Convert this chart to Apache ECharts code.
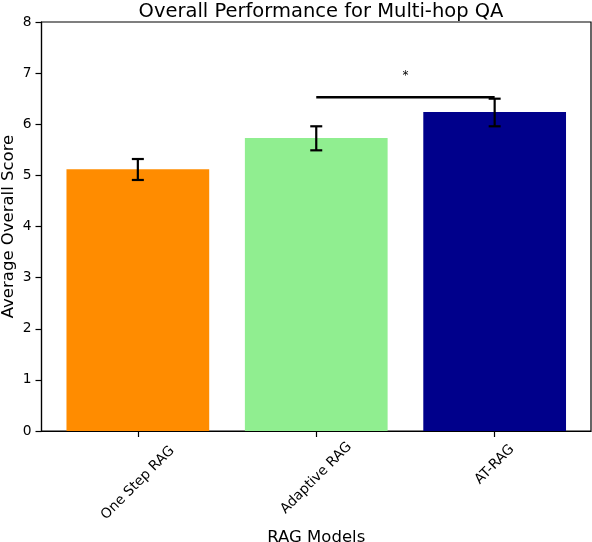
<!DOCTYPE html>
<html>
<head>
<meta charset="utf-8">
<script src="https://cdn.jsdelivr.net/npm/echarts@6/dist/echarts.min.js"></script>
<style>
  html, body { margin: 0; padding: 0; background: #fff; }
  #chart { width: 592px; height: 542px; }
</style>
</head>
<body>
<div id="chart"></div>
<script>
// data
const models = ['One Step RAG', 'Adaptive RAG', 'AT-RAG']
const scores = [5.12, 5.73, 6.24]
const errLow = [4.91, 5.49, 5.96]
const errHigh = [5.32, 5.96, 6.50]
const barColors = ['#FF8C00', '#90EE90', '#00008B']
const yTicks = [0, 1, 2, 3, 4, 5, 6, 7, 8]
// significance bracket: [from, to, height, label height]
const sigPairs = [[1, 2, 6.53, 6.95]]
const sigLabels = ['*']

const FONT = '"DejaVu Sans", sans-serif'
const TICK_SIZE = 13.8

const barData = scores.map((v, i) => [i, v])
const errData = scores.map((v, i) => [i, errLow[i], errHigh[i]])

// per-label shift so rotated labels hang like centred matplotlib ticks
const labelRich = {
  a: { fontSize: TICK_SIZE, fontFamily: FONT, color: '#000', padding: [0, 0, 0, 0] },
  b: { fontSize: TICK_SIZE, fontFamily: FONT, color: '#000', padding: [0, 0, 7, 7] },
  c: { fontSize: TICK_SIZE, fontFamily: FONT, color: '#000', padding: [0, 0, 26, 26] },
}
const richKeys = ['a', 'b', 'c']

const option = {
  animation: false,
  backgroundColor: '#fff',
  textStyle: { fontFamily: FONT },
  title: {
    text: 'Overall Performance for Multi-hop QA',
    left: 316,
    top: -3,
    textAlign: 'center',
    textStyle: { fontSize: 19.5, fontWeight: 'normal', color: '#000', fontFamily: FONT },
  },
  grid: {
    left: 41.5,
    right: 1,
    top: 22,
    bottom: 111,
    show: true,
    borderColor: '#000',
    borderWidth: 1.2,
    containLabel: false,
    outerBoundsMode: 'none',
  },
  xAxis: {
    type: 'value',
    min: -0.54,
    max: 2.54,
    name: 'RAG Models',
    nameLocation: 'middle',
    nameGap: 98,
    nameMoveOverlap: false,
    nameTextStyle: { fontSize: 16.5, color: '#000', fontFamily: FONT },
    axisLine: { show: true, onZero: false, lineStyle: { color: '#000', width: 1.2 } },
    axisTick: { show: true, length: 6, customValues: [0, 1, 2], lineStyle: { color: '#000', width: 1.2 } },
    axisLabel: {
      customValues: [0, 1, 2],
      rotate: 45,
      align: 'center',
      verticalAlign: 'middle',
      margin: 52,
      formatter: (v) => {
        const i = Math.round(v)
        return '{' + richKeys[i] + '|' + models[i] + '}'
      },
      rich: labelRich,
    },
    splitLine: { show: false },
  },
  yAxis: {
    type: 'value',
    min: yTicks[0],
    max: yTicks[yTicks.length - 1],
    interval: 1,
    name: 'Average Overall Score',
    nameLocation: 'middle',
    nameGap: 24,
    nameMoveOverlap: false,
    nameTextStyle: { fontSize: 16.5, color: '#000', fontFamily: FONT },
    axisLine: { show: true, onZero: false, lineStyle: { color: '#000', width: 1.2 } },
    axisTick: { show: true, length: 6, lineStyle: { color: '#000', width: 1.2 } },
    axisLabel: { fontSize: TICK_SIZE, color: '#000', margin: 10, fontFamily: FONT },
    splitLine: { show: false },
  },
  series: [
    {
      type: 'custom',
      name: 'bars',
      data: barData,
      renderItem: (params, api) => {
        const x = api.value(0)
        const y = api.value(1)
        const p0 = api.coord([x - 0.4, y])
        const p1 = api.coord([x + 0.4, 0])
        return {
          type: 'rect',
          shape: { x: p0[0], y: p0[1], width: p1[0] - p0[0], height: p1[1] - p0[1] },
          style: { fill: barColors[params.dataIndex] },
        }
      },
      z: 2,
    },
    {
      type: 'custom',
      name: 'errors',
      data: errData,
      renderItem: (params, api) => {
        const x = api.value(0)
        const lo = api.coord([x, api.value(1)])
        const hi = api.coord([x, api.value(2)])
        const cap = 6
        const st = { stroke: '#000', lineWidth: 2.2 }
        return {
          type: 'group',
          children: [
            { type: 'line', shape: { x1: lo[0], y1: lo[1], x2: hi[0], y2: hi[1] }, style: st },
            { type: 'line', shape: { x1: lo[0] - cap, y1: lo[1], x2: lo[0] + cap, y2: lo[1] }, style: st },
            { type: 'line', shape: { x1: hi[0] - cap, y1: hi[1], x2: hi[0] + cap, y2: hi[1] }, style: st },
          ],
        }
      },
      z: 3,
    },
    {
      type: 'custom',
      name: 'significance',
      data: sigPairs,
      renderItem: (params, api) => {
        const a = api.coord([api.value(0), api.value(2)])
        const b = api.coord([api.value(1), api.value(2)])
        const t = api.coord([(api.value(0) + api.value(1)) / 2, api.value(3)])
        return {
          type: 'group',
          children: [
            { type: 'line', shape: { x1: a[0], y1: a[1], x2: b[0], y2: b[1] }, style: { stroke: '#000', lineWidth: 2.5 } },
            {
              type: 'text',
              x: t[0],
              y: t[1],
              style: {
                text: sigLabels[params.dataIndex],
                fontSize: 12,
                fontFamily: FONT,
                fill: '#000',
                align: 'center',
                verticalAlign: 'middle',
              },
            },
          ],
        }
      },
      z: 4,
    },
  ],
}

const chart = echarts.init(document.getElementById('chart'))
chart.setOption(option)
</script>
</body>
</html>
